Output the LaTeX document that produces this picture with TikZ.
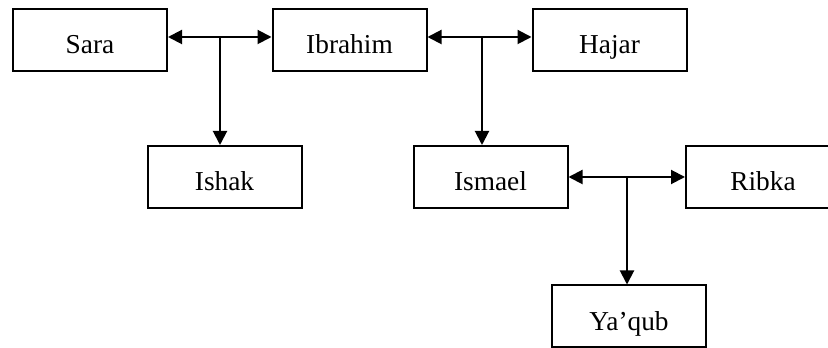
\documentclass[tikz,border=0pt]{standalone}
\usepackage{fontspec}
\setmainfont{Liberation Serif}
\usetikzlibrary{arrows.meta}
\begin{document}
\begin{tikzpicture}[x=0.75pt,y=-0.75pt,
  person/.style={draw,line width=1.5pt,minimum width=115.5pt,minimum height=46.5pt,
    inner sep=0pt,text height=21pt,text depth=0pt,
    font=\fontsize{20.5}{24}\selectfont,fill=white},
  link/.style={line width=1.5pt,-{Triangle[length=10.5pt,width=10.5pt]}}]
\useasboundingbox (0,0) rectangle (828,348);
\clip (0,0) rectangle (828,348);
\node[person] (sara) at (90,40) {Sara};
\node[person] (ibrahim) at (349.5,40) {Ibrahim};
\node[person] (hajar) at (609.5,40) {Hajar};
\node[person] (ishak) at (224.5,177) {Ishak};
\node[person] (ismael) at (490.5,177) {Ismael};
\node[person] (ribka) at (763,177) {Ribka};
\node[person] (yaqub) at (629,316.5) {Ya’qub};
\coordinate (j1) at (220,37);
\coordinate (j2) at (482,37);
\coordinate (j3) at (627,177);
\draw[link] (j1) -- (sara.east |- j1);
\draw[link] (j1) -- (ibrahim.west |- j1);
\draw[link] (j1) -- (ishak.north -| j1);
\draw[link] (j2) -- (ibrahim.east |- j2);
\draw[link] (j2) -- (hajar.west |- j2);
\draw[link] (j2) -- (ismael.north -| j2);
\draw[link] (j3) -- (ismael.east |- j3);
\draw[link] (j3) -- (ribka.west |- j3);
\draw[link] (j3) -- (yaqub.north -| j3);
\end{tikzpicture}
\end{document}
